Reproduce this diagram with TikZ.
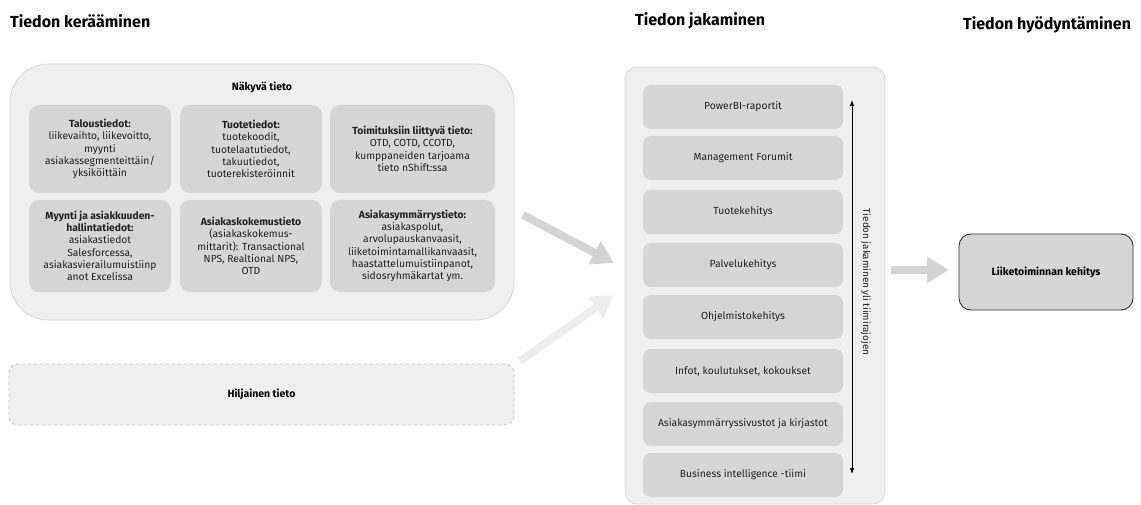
\documentclass[tikz,border=0pt]{standalone}
\usepackage{fontspec}
\setmainfont{Fira Sans}
\usetikzlibrary{arrows.meta}
\definecolor{panelfill}{HTML}{EFEFEF}
\definecolor{panelline}{HTML}{D9D9D9}
\definecolor{cellfill}{HTML}{D6D6D6}
\definecolor{arrowdark}{HTML}{D4D4D4}
\definecolor{arrowlight}{HTML}{EDEDED}
\definecolor{txt}{HTML}{222222}
\begin{document}
\begin{tikzpicture}[x=1pt,y=-1pt,
  heading/.style={anchor=west, inner sep=0pt, text=black, font=\fontsize{16}{18}\selectfont\bfseries},
  bigbox/.style={fill=panelfill, draw=panelline, line width=0.8pt, rounded corners=38pt, inner sep=0pt},
  midpanel/.style={fill=panelfill, draw=panelline, line width=0.8pt, rounded corners=12pt, inner sep=0pt},
  tacit/.style={fill=panelfill, draw=panelline!90!black, dashed, line width=0.8pt, rounded corners=9pt, inner sep=0pt, text=black, font=\fontsize{10.5}{12}\selectfont\bfseries},
  cellbox/.style={fill=cellfill, draw=none, rounded corners=10pt, align=center, inner sep=0pt, text=txt, font=\fontsize{10.3}{12.3}\selectfont},
  listbox/.style={fill=cellfill, draw=none, rounded corners=8pt, align=center, inner sep=0pt, text=txt, font=\fontsize{10.3}{12}\selectfont, minimum width=200, minimum height=44},
  lbl/.style={inner sep=0pt, text=black, font=\fontsize{10.5}{12}\selectfont\bfseries},
  blockarrow/.style={line width=8pt, -{Triangle[length=22pt,width=25pt]}},
  resultbox/.style={fill=cellfill, draw=black!80, line width=0.9pt, rounded corners=12pt, inner sep=0pt, text=black, font=\fontsize{10.5}{12}\selectfont\bfseries}
]
\useasboundingbox (0,0) rectangle (1141,505);

% headings
\node[heading] (h1) at (10,21) {Tiedon kerääminen};
\node[heading] (h2) at (635,21) {Tiedon jakaminen};
\node[heading] (h3) at (963,25) {Tiedon hyödyntäminen};

% visible knowledge
\node[bigbox, minimum width=504, minimum height=256] (naky) at (262,192) {};
\node[lbl] (nakyt) at (262,87) {Näkyvä tieto};

\node[cellbox, minimum width=142, minimum height=88] (c1) at (100,149)
  {\textbf{Taloustiedot:}\\liikevaihto, liikevoitto,\\myynti\\asiakassegmenteittäin/\\yksiköittäin};
\node[cellbox, minimum width=142, minimum height=88] (c2) at (251,149)
  {\textbf{Tuotetiedot:}\\tuotekoodit,\\tuotelaatutiedot,\\takuutiedot,\\tuoterekisteröinnit};
\node[cellbox, minimum width=165, minimum height=88] (c3) at (412.5,149)
  {\textbf{Toimituksiin liittyvä tieto:}\\OTD, COTD, CCOTD,\\kumppaneiden tarjoama\\tieto nShift:ssa};
\node[cellbox, minimum width=142, minimum height=92] (c4) at (100,246)
  {\textbf{Myynti ja asiakkuuden-}\\\textbf{hallintatiedot:}\\asiakastiedot\\Salesforcessa,\\asiakasvierailumuistiinp\\anot Excelissa};
\node[cellbox, minimum width=142, minimum height=92] (c5) at (251,246)
  {\textbf{Asiakaskokemustieto}\\(asiakaskokemus-\\mittarit): Transactional\\NPS, Realtional NPS,\\OTD};
\node[cellbox, minimum width=165, minimum height=92] (c6) at (412.5,246)
  {\textbf{Asiakasymmärrystieto:}\\asiakaspolut,\\arvolupauskanvaasit,\\liiketoimintamallikanvaasit,\\haastattelumuistiinpanot,\\sidosryhmäkartat ym.};

% tacit knowledge
\node[tacit, minimum width=505, minimum height=61] (hilj) at (261.5,394.5) {Hiljainen tieto};

% middle panel
\node[midpanel, minimum width=260, minimum height=437] (share) at (755,285.5) {};
\node[listbox] (s1) at (743,107) {PowerBI-raportit};
\node[listbox] (s2) at (743,158) {Management Forumit};
\node[listbox] (s3) at (743,212) {Tuotekehitys};
\node[listbox] (s4) at (743,265) {Palvelukehitys};
\node[listbox] (s5) at (743,317) {Ohjelmistokehitys};
\node[listbox] (s6) at (743,371) {Infot, koulutukset, kokoukset};
\node[listbox] (s7) at (743,424) {Asiakasymmärryssivustot ja kirjastot};
\node[listbox] (s8) at (743,475) {Business intelligence -tiimi};

\coordinate (vt) at (852,100);
\coordinate (vb) at (852,474);
\draw[line width=0.8pt, {Latex[length=6pt,width=4.5pt]}-{Latex[length=6pt,width=4.5pt]}] (vt) -- (vb);
\node[inner sep=0pt, rotate=-90, text=txt, font=\fontsize{9.8}{11}\selectfont] (vlabel) at (866,282) {Tiedon jakaminen yli tiimirajojen};

% result
\node[resultbox, minimum width=174, minimum height=76] (liike) at (1046,272) {Liiketoiminnan kehitys};

% arrows
\coordinate (a1s) at (523,215);
\coordinate (a1e) at (614,263);
\coordinate (a2s) at (520,361);
\coordinate (a2e) at (614,295);
\coordinate (a3s) at (891,270);
\coordinate (a3e) at (949,270);
\draw[blockarrow, draw=arrowdark, fill=arrowdark] (a1s) -- (a1e);
\draw[blockarrow, draw=arrowlight, fill=arrowlight] (a2s) -- (a2e);
\draw[blockarrow, draw=arrowdark, fill=arrowdark] (a3s) -- (a3e);
\end{tikzpicture}
\end{document}
